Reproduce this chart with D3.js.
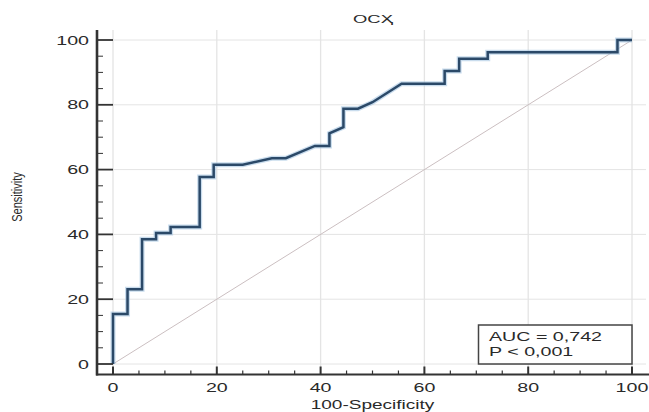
<!DOCTYPE html>
<html>
<head>
<meta charset="utf-8">
<script src="https://cdn.jsdelivr.net/npm/d3@7"></script>
<style>
  html, body { margin: 0; padding: 0; background: #fff; }
  svg { display: block; font-family: "Liberation Sans", Arial, sans-serif; }
</style>
</head>
<body>
<svg id="chart" width="649" height="412"></svg>
<script>
// ROC curve: 100-Specificity (false positive rate, %) vs Sensitivity (%)
const fpr = [0, 0, 2.8, 2.8, 5.6, 5.6, 8.3, 8.3, 11.1, 11.1, 16.7, 16.7, 19.4, 19.4, 25.0, 30.6, 33.3,
             38.9, 41.7, 41.7, 44.4, 44.4, 47.2, 50.0, 55.6, 63.9, 63.9, 66.7, 66.7, 72.2, 72.2, 97.2, 97.2, 100];
const tpr = [0, 15.4, 15.4, 23.1, 23.1, 38.5, 38.5, 40.4, 40.4, 42.3, 42.3, 57.7, 57.7, 61.5, 61.5, 63.5, 63.5,
             67.3, 67.3, 71.2, 73.1, 78.8, 78.8, 80.8, 86.5, 86.5, 90.4, 90.4, 94.2, 94.2, 96.2, 96.2, 100, 100];
const majorTicks = [0, 20, 40, 60, 80, 100];
const tickLabels = ["0", "20", "40", "60", "80", "100"];
const minorTicks = d3.range(0, 101, 5).filter(v => v % 20 !== 0);
const chartTitle = "OCҲ";
const xTitle = "100-Specificity";
const yTitle = "Sensitivity";
const statLines = ["AUC = 0,742", "P < 0,001"];

const svg = d3.select("#chart");
const x = d3.scaleLinear().domain([0, 100]).range([113, 632]);
const y = d3.scaleLinear().domain([0, 100]).range([364, 40]);

const axisLeftX = 97;     // position of the vertical axis line
const axisBottomY = 374.5; // position of the horizontal axis line
const plotTop = 30;
const plotRight = 646;
const textStretch = 1.56;
const ink = "#2a2a2a";

svg.append("rect").attr("width", 649).attr("height", 412).attr("fill", "#fff");

// grid
const grid = svg.append("g");
grid.selectAll("line.h").data(majorTicks).join("line")
  .attr("x1", x(0)).attr("x2", plotRight)
  .attr("y1", d => y(d)).attr("y2", d => y(d))
  .attr("stroke", "#e4e4e4").attr("stroke-width", 1);
grid.selectAll("line.v").data(majorTicks).join("line")
  .attr("x1", d => x(d)).attr("x2", d => x(d))
  .attr("y1", plotTop).attr("y2", axisBottomY)
  .attr("stroke", "#e4e4e4").attr("stroke-width", 1.3);

// reference diagonal
svg.append("line")
  .attr("x1", x(0)).attr("y1", y(0)).attr("x2", x(100)).attr("y2", y(100))
  .attr("stroke", "#cbbfc1").attr("stroke-width", 1);

// ROC curve
const pts = fpr.map((f, i) => [f, tpr[i]]);
const line = d3.line().x(d => x(d[0])).y(d => y(d[1]));
svg.append("path").datum(pts).attr("d", line)
  .attr("fill", "none").attr("stroke", "#9cc0de").attr("stroke-opacity", 0.55)
  .attr("stroke-width", 5).attr("stroke-linejoin", "miter");
svg.append("path").datum(pts).attr("d", line)
  .attr("fill", "none").attr("stroke", "#2b4968")
  .attr("stroke-width", 2.5).attr("stroke-linejoin", "miter");

// axes lines
const axes = svg.append("g").attr("stroke", "#333");
axes.append("line").attr("x1", axisLeftX).attr("x2", axisLeftX)
  .attr("y1", plotTop).attr("y2", axisBottomY + 1).attr("stroke-width", 2.6);
axes.append("line").attr("x1", axisLeftX - 1).attr("x2", 649)
  .attr("y1", axisBottomY).attr("y2", axisBottomY).attr("stroke-width", 2);

// y ticks (pointing inward)
axes.selectAll("line.ymaj").data(majorTicks).join("line")
  .attr("x1", axisLeftX).attr("x2", x(0))
  .attr("y1", d => y(d)).attr("y2", d => y(d)).attr("stroke-width", 1.8);
axes.selectAll("line.ymin").data(minorTicks).join("line")
  .attr("x1", axisLeftX).attr("x2", axisLeftX + 6)
  .attr("y1", d => y(d)).attr("y2", d => y(d)).attr("stroke-width", 1);
// x ticks (pointing inward)
axes.selectAll("line.xmaj").data(majorTicks).join("line")
  .attr("x1", d => x(d)).attr("x2", d => x(d))
  .attr("y1", axisBottomY).attr("y2", axisBottomY - 8).attr("stroke-width", 2);
axes.selectAll("line.xmin").data(minorTicks).join("line")
  .attr("x1", d => x(d)).attr("x2", d => x(d))
  .attr("y1", axisBottomY).attr("y2", axisBottomY - 4).attr("stroke-width", 1.2);

// stretched text helper
function label(txt, px, py, anchor, size, sx) {
  return svg.append("text")
    .attr("transform", `translate(${px},${py}) scale(${sx},1)`)
    .attr("text-anchor", anchor)
    .attr("font-size", size)
    .attr("fill", ink)
    .text(txt);
}

majorTicks.forEach((v, i) => {
  label(tickLabels[i], 89, y(v) + 4.5, "end", 12.6, textStretch);
  label(tickLabels[i], x(v), 391.7, "middle", 12.6, textStretch);
});

label(chartTitle, 373, 23.3, "middle", 11.8, textStretch);
label(xTitle, (x(0) + x(100)) / 2, 408.6, "middle", 12.2, textStretch);

svg.append("text")
  .attr("transform", "translate(17,197) rotate(-90) scale(1,1.25)")
  .attr("text-anchor", "middle").attr("dy", "0.35em")
  .attr("font-size", 11).attr("fill", ink)
  .text(yTitle);

// statistics box
svg.append("rect")
  .attr("x", 478.5).attr("y", 325).attr("width", x(100) - 478.5).attr("height", y(0) - 325)
  .attr("fill", "#fff").attr("stroke", "#444").attr("stroke-width", 1.5);
label(statLines[0], 489, 340.7, "start", 12.6, textStretch);
label(statLines[1], 489, 356, "start", 12.6, textStretch);
</script>
</body>
</html>
